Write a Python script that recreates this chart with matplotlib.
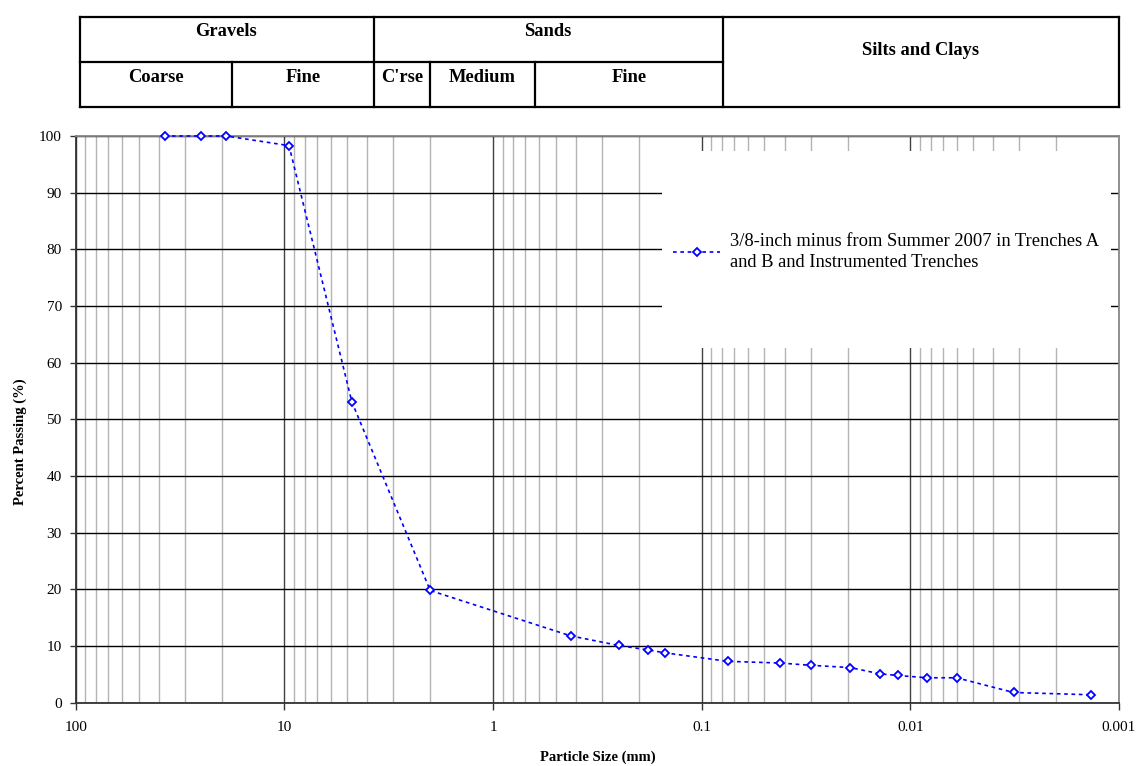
import matplotlib
matplotlib.use("Agg")
import matplotlib.pyplot as plt
from matplotlib.ticker import LogLocator, FixedLocator, NullFormatter
from matplotlib.patches import Rectangle

plt.rcParams['font.family'] = ['Liberation Serif', 'DejaVu Serif']

# Grain-size distribution (sieve + hydrometer)
particle_size_mm = [37.5, 25.0, 19.0, 9.5, 4.75, 2.0, 0.425, 0.25, 0.18, 0.15,
                    0.075, 0.042, 0.030, 0.0194, 0.0140, 0.0115, 0.0083, 0.0060,
                    0.0032, 0.00136]
percent_passing = [100, 100, 100, 98.3, 53.1, 19.8, 11.8, 10.1, 9.3, 8.8,
                   7.3, 7.0, 6.6, 6.2, 5.1, 4.8, 4.4, 4.4, 1.8, 1.4]
series_label = "3/8-inch minus from Summer 2007 in Trenches A\nand B and Instrumented Trenches"

x_ticks = [100, 10, 1, 0.1, 0.01, 0.001]
x_tick_labels = ["100", "10", "1", "0.1", "0.01", "0.001"]
y_ticks = list(range(0, 101, 10))

# Soil classification header table
group_names = ["Gravels", "Sands", "Silts and Clays"]
sub_names = ["Coarse", "Fine", "C'rse", "Medium", "Fine"]

W, H = 1141, 766
fig = plt.figure(figsize=(W / 100, H / 100), dpi=100)

left, right, top, bottom = 75.7, 1119.0, 136.0, 702.7
ax = fig.add_axes([left / W, 1 - bottom / H, (right - left) / W, (bottom - top) / H])

ax.set_xscale('log')
ax.set_xlim(100, 0.001)
ax.set_ylim(0, 100)
ax.xaxis.set_major_locator(FixedLocator(x_ticks))
ax.set_xticklabels(x_tick_labels)
ax.xaxis.set_minor_locator(LogLocator(base=10, subs=range(2, 10), numticks=20))
ax.xaxis.set_minor_formatter(NullFormatter())
ax.set_yticks(y_ticks)

ax.set_axisbelow(True)
ax.grid(which='minor', axis='x', color='#b4b4b4', lw=1.0)
ax.grid(which='major', axis='x', color='#404040', lw=1.0)
ax.grid(which='major', axis='y', color='#000000', lw=1.0)

ax.tick_params(axis='x', which='major', direction='out', length=5, width=1,
               color='#333333', labelsize=11, pad=8)
ax.tick_params(axis='x', which='minor', length=0)
ax.tick_params(axis='y', which='major', direction='out', length=4, width=1,
               color='#333333', labelsize=11, pad=6)

for side in ('left', 'bottom'):
    ax.spines[side].set_color('#333333')
    ax.spines[side].set_linewidth(1.3)
for side in ('top', 'right'):
    ax.spines[side].set_color('#888888')
    ax.spines[side].set_linewidth(1.3)

ax.set_xlabel("Particle Size (mm)", fontsize=10.5, fontweight='bold')
ax.xaxis.set_label_coords(0.5, (bottom - 757) / (bottom - top))
ax.xaxis.label.set_va('center')
ax.set_ylabel("Percent Passing (%)", fontsize=10.5, fontweight='bold')
ax.yaxis.set_label_coords((20.7 - left) / (right - left), (bottom - 442) / (bottom - top))
ax.yaxis.label.set_va('center')

# White panel behind the legend
px2ax_x = lambda px: (px - left) / (right - left)
px2ax_y = lambda py: (bottom - py) / (bottom - top)
ax.add_patch(Rectangle((px2ax_x(662), px2ax_y(348)),
                       px2ax_x(1111) - px2ax_x(662), px2ax_y(151) - px2ax_y(348),
                       transform=ax.transAxes, facecolor='white', edgecolor='none',
                       zorder=1))

ax.plot(particle_size_mm, percent_passing, color='#0000ff', lw=1.2,
        linestyle=(0, (2.2, 2.2)), marker='D', markersize=4.5,
        markerfacecolor='white', markeredgecolor='#0000ff', markeredgewidth=1.3,
        zorder=3, label=series_label, clip_on=False)

leg = ax.legend(loc='center left', bbox_to_anchor=(px2ax_x(673), px2ax_y(252)),
                frameon=False, fontsize=13.3, handlelength=2.55, handletextpad=0.55,
                borderpad=0, borderaxespad=0)
leg.set_zorder(4)
for txt in leg.get_texts():
    txt.set_linespacing(1.35)

# Header table drawn in pixel coordinates
tab = fig.add_axes([0, 0, 1, 1])
tab.set_xlim(0, W)
tab.set_ylim(H, 0)
tab.axis('off')
t_top, t_mid, t_bot = 16.5, 61.5, 106.5
t_left, t_right = 79.5, 1118.5
lw_tab = 1.6
for y in (t_top, t_bot):
    tab.plot([t_left, t_right], [y, y], color='black', lw=lw_tab, solid_capstyle='projecting')
tab.plot([t_left, 722.5], [t_mid, t_mid], color='black', lw=lw_tab)
for x in (t_left, 373.5, 722.5, t_right):
    tab.plot([x, x], [t_top, t_bot], color='black', lw=lw_tab, solid_capstyle='projecting')
for x in (232, 430, 535):
    tab.plot([x, x], [t_mid, t_bot], color='black', lw=lw_tab)

group_edges = [(t_left, 373.5), (373.5, 722.5), (722.5, t_right)]
group_base = [35.5, 35.5, 55]
for name, (a, b), yb in zip(group_names, group_edges, group_base):
    tab.text((a + b) / 2, yb, name, ha='center', va='baseline',
             fontsize=13.3, fontweight='bold')

sub_edges = [(t_left, 232), (232, 373.5), (373.5, 430), (430, 535), (535, 722.5)]
for name, (a, b) in zip(sub_names, sub_edges):
    tab.text((a + b) / 2, 81.5, name, ha='center', va='baseline',
             fontsize=13.3, fontweight='bold')

fig.savefig("out.png", dpi=100, facecolor='white')
